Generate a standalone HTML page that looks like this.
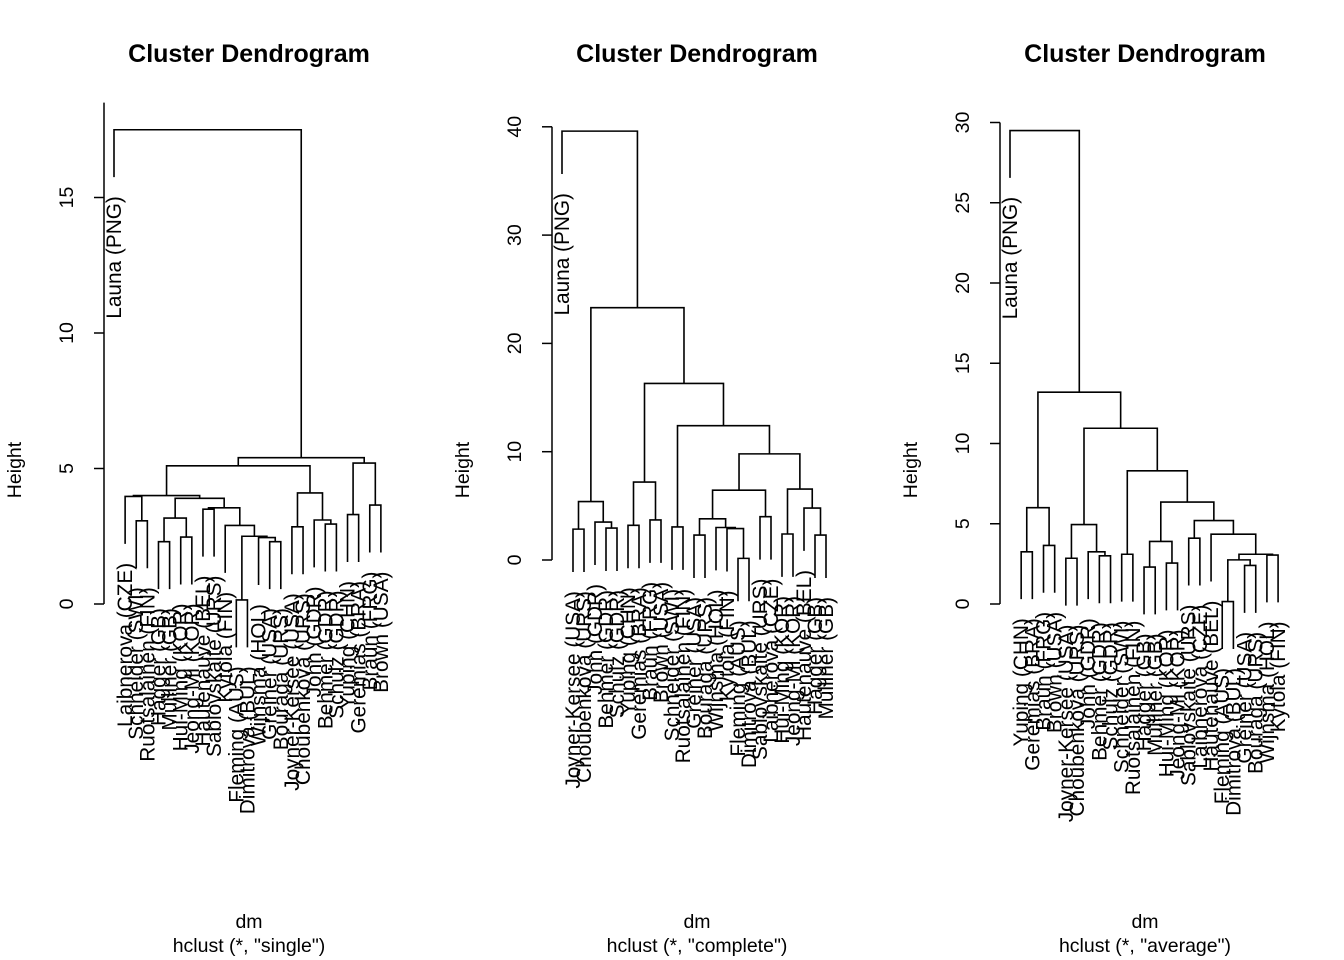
<!DOCTYPE html>
<html><head><meta charset="utf-8"><style>
html,body{margin:0;padding:0;background:#fff;}
svg{display:block;font-family:"Liberation Sans",Arial,sans-serif;}
</style></head><body>
<svg id="chart" width="1344" height="960" viewBox="0 0 1344 960"></svg>
<script>
const labels1 = ["Launa (PNG)","Laibnerova (CZE)","Schneider (SWI)","Ruotsalainen (FIN)","Hagger (GB)","Mulliner (GB)","Hui-Ming (KOR)","Jeong-Mi (KOR)","Hautenauve (BEL)","Sablovskaite (URS)","Kytola (FIN)","Fleming (AUS)","Dimitrova (BUL)","Wijnsma (HOL)","Greiner (USA)","Bouraga (URS)","Joyner-Kersee (USA)","Choubenkova (URS)","John (GDR)","Behmer (GDR)","Schulz (GDR)","Yuping (CHN)","Geremias (BRA)","Braun (FRG)","Brown (USA)"];
const mergeL1 = [-3,-2,-5,-7,3,-9,-12,-15,-14,7,-11,6,5,2,-17,-20,-19,15,14,-22,-24,20,19,-1];
const mergeR1 = [-4,1,-6,-8,4,-10,-13,-16,8,9,10,11,12,13,-18,-21,16,17,18,-23,-25,21,22,23];
const mergeH1 = [3.07,3.97,2.3,2.47,3.17,3.5,0.15,2.3,2.45,2.5,2.9,3.55,3.9,4.0,2.85,2.95,3.1,4.1,5.1,3.3,3.65,5.2,5.4,17.5];
const ticks1 = [0,5,10,15];

const labels2 = ["Launa (PNG)","Joyner-Kersee (USA)","Choubenkova (URS)","John (GDR)","Behmer (GDR)","Schulz (GDR)","Yuping (CHN)","Geremias (BRA)","Braun (FRG)","Brown (USA)","Schneider (SWI)","Ruotsalainen (FIN)","Greiner (USA)","Bouraga (URS)","Wijnsma (HOL)","Kytola (FIN)","Fleming (AUS)","Dimitrova (BUL)","Sablovskaite (URS)","Laibnerova (CZE)","Hui-Ming (KOR)","Jeong-Mi (KOR)","Hautenauve (BEL)","Hagger (GB)","Mulliner (GB)"];
const mergeL2 = [-2,-5,-4,1,-7,-9,5,-11,-13,-17,-16,-15,9,-19,13,-21,-24,-23,16,15,8,7,4,-1];
const mergeR2 = [-3,-6,2,3,-8,-10,6,-12,-14,-18,10,11,12,-20,14,-22,-25,17,18,19,20,21,22,23];
const mergeH2 = [2.85,2.95,3.5,5.4,3.2,3.7,7.2,3.05,2.3,0.15,2.9,3.0,3.8,4.0,6.45,2.4,2.3,4.8,6.55,9.8,12.4,16.3,23.3,39.6];
const ticks2 = [0,10,20,30,40];

const labels3 = ["Launa (PNG)","Yuping (CHN)","Geremias (BRA)","Braun (FRG)","Brown (USA)","Joyner-Kersee (USA)","Choubenkova (URS)","John (GDR)","Behmer (GDR)","Schulz (GDR)","Schneider (SWI)","Ruotsalainen (FIN)","Hagger (GB)","Mulliner (GB)","Hui-Ming (KOR)","Jeong-Mi (KOR)","Sablovskaite (URS)","Laibnerova (CZE)","Hautenauve (BEL)","Fleming (AUS)","Dimitrova (BUL)","Greiner (USA)","Bouraga (URS)","Wijnsma (HOL)","Kytola (FIN)"];
const mergeL3 = [-2,-4,1,-6,-9,-8,4,-11,-13,-15,9,-17,-20,-22,13,-24,15,-19,12,11,8,7,3,-1];
const mergeR3 = [-3,-5,2,-7,-10,5,6,-12,-14,-16,10,-18,-21,-23,14,-25,16,17,18,19,20,21,22,23];
const mergeH3 = [3.25,3.65,6.0,2.85,3.0,3.25,4.95,3.1,2.3,2.55,3.9,4.1,0.15,2.4,2.75,3.05,3.1,4.35,5.2,6.35,8.3,10.95,13.2,29.5];
const ticks3 = [0,5,10,15,20,25,30];

const methods = ["single","complete","average"];

const svg = document.getElementById('chart');
const NS = 'http://www.w3.org/2000/svg';
function mk(tag, attrs, parent){const e=document.createElementNS(NS,tag);for(const k in attrs)e.setAttribute(k,attrs[k]);parent.appendChild(e);return e;}

const panels = [
 {labels:labels1,L:mergeL1,R:mergeR1,H:mergeH1,ticks:ticks1,axisTop:18.5,ax:104,x0:114,dx:11.12,y0:604,ppu:27.1,cx:249},
 {labels:labels2,L:mergeL2,R:mergeR2,H:mergeH2,ticks:ticks2,axisTop:40,ax:552,x0:562,dx:11.0,y0:560,ppu:10.83,cx:697},
 {labels:labels3,L:mergeL3,R:mergeR3,H:mergeH3,ticks:ticks3,axisTop:30,ax:1000,x0:1010,dx:11.17,y0:604,ppu:16.05,cx:1145}
];

panels.forEach((p,pi)=>{
  const g = mk('g',{},svg);
  
  
  const X = i => p.x0 + p.dx*i;
  const Y = h => p.y0 - p.ppu*h;
  const maxH = Math.max(...p.H);
  const hang = 0.1*maxH;
  const t = mk('text',{x:p.cx,y:62,'text-anchor':'middle','font-size':'25','font-weight':'bold'},g);
  t.textContent='Cluster Dendrogram';
  
  
  const s1 = mk('text',{x:p.cx,y:928,'text-anchor':'middle','font-size':'19.5'},g);
  s1.textContent='dm';
  
  
  const s2 = mk('text',{x:p.cx,y:952,'text-anchor':'middle','font-size':'19.5'},g);
  s2.textContent='hclust (*, "'+methods[pi]+'")';
  
  
  const yl = mk('text',{transform:'translate('+(p.ax-83)+',470) rotate(-90)','text-anchor':'middle','font-size':'19.5'},g);
  yl.textContent='Height';
  
  
  const axl = mk('line',{x1:p.ax,x2:p.ax,y1:Y(0),y2:Y(p.axisTop),stroke:'#000','stroke-width':1.5},g);
  
  
  p.ticks.forEach(v=>{
    const tk = mk('line',{x1:p.ax-10,x2:p.ax,y1:Y(v),y2:Y(v),stroke:'#000','stroke-width':1.5},g);
    
    
    const tl = mk('text',{transform:'translate('+(p.ax-31)+','+Y(v)+') rotate(-90)','text-anchor':'middle','font-size':'19.5'},g);
    tl.textContent=String(v);
    
    
  });
  const nodeX = [], nodeH = [];
  const posOf = ref => ref<0 ? {x:X(-ref-1), leaf:-ref-1} : {x:nodeX[ref-1], leaf:null};
  const hOf = (ref, parentH) => ref<0 ? parentH - hang : nodeH[ref-1];
  const path = [];
  const leafBottom = {};
  for(let k=0;k<p.H.length;k++){
    const a=posOf(p.L[k]), b=posOf(p.R[k]);
    const h=p.H[k];
    const ha=hOf(p.L[k],h), hb=hOf(p.R[k],h);
    if(a.leaf!==null) leafBottom[a.leaf]=ha;
    if(b.leaf!==null) leafBottom[b.leaf]=hb;
    path.push('M'+a.x+' '+Y(ha)+'V'+Y(h)+'H'+b.x+'V'+Y(hb));
    nodeX.push((a.x+b.x)/2); nodeH.push(h);
  }
  const tree = mk('path',{d:path.join(''),fill:'none',stroke:'#000','stroke-width':1.6},g);
  
  
  p.labels.forEach((lab,i)=>{
    const yb = Y(leafBottom[i]) + 19;
    const tx = mk('text',{transform:'translate('+(X(i)+7)+','+yb+') rotate(-90)','text-anchor':'end','font-size':'20.8'},g);
    tx.textContent=lab;
    
    
  });
});
</script>
</body></html>
